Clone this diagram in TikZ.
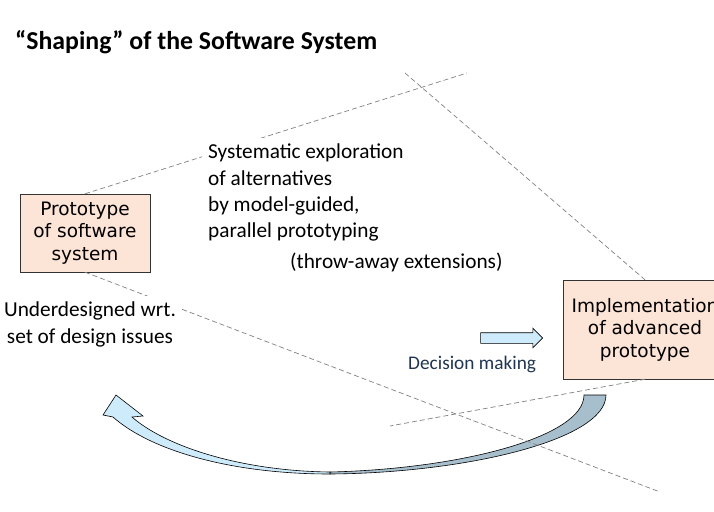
\documentclass[tikz,border=0pt]{standalone}
\usepackage{fontspec}
\setmainfont{Carlito}
\newfontfamily\boxfont{DejaVu Sans}
\usetikzlibrary{
    positioning,
    shapes.arrows
}
\definecolor{boxpeach}{HTML}{FCE4D6}
\definecolor{frontblue}{HTML}{A7BECC}
\definecolor{backblue}{HTML}{CDEBFA}
\definecolor{decisionnavy}{HTML}{1F3552}
\tikzset{
  protobox/.style={draw=black!80, fill=boxpeach, align=center, inner sep=0pt,
    font=\boxfont\fontsize{18.5}{22.5}\selectfont},
  guide/.style={draw=gray, line width=0.7pt, dash pattern=on 5pt off 3pt},
  plaintext/.style={fill=white, inner sep=6pt, font=\fontsize{21.3}{26.3}\selectfont},
  ribbon/.style={draw=black, line width=0.6pt}
}

\begin{document}
\begin{tikzpicture}[x=1pt,y=-1pt]
\useasboundingbox (0,0) rectangle (714,511);
\clip (0,0) rectangle (714,511);
\node[anchor=base west, inner sep=0pt, font=\bfseries\fontsize{25.8}{30}\selectfont] (title) at (15,49) {“Shaping” of the Software System};
\node[protobox, minimum width=130pt, minimum height=78pt] (proto) at (85,233) {Prototype\\of software\\system};
\node[protobox, minimum width=164pt, minimum height=99pt] (impl) at (645,329.5) {Implementation\\of advanced\\prototype};
% curved return arrow
\filldraw[ribbon, fill=frontblue] (330,474) .. controls (465,473) and (606,440) .. (606,395)
  -- (584,395) .. controls (584,437) and (460,469) .. (330,472) -- cycle;
\filldraw[ribbon, fill=backblue] (330,474) .. controls (230,474) and (150,450) .. (113,417)
  -- (103,415) -- (116,395) -- (143,416) -- (132,417)
  .. controls (165,446) and (240,471) .. (330,472) -- cycle;
% guide lines
\coordinate (g1) at (467,73);
\coordinate (g2) at (405,73);
\coordinate (g3) at (660,492);
\coordinate (g4) at (390,426);
\draw[guide] (proto.north) -- (g1);
\draw[guide] (g2) -- (impl.north);
\draw[guide] (proto.south) -- (g3);
\draw[guide] (impl.south) -- (g4);
% texts
\node[plaintext, align=left, anchor=north west] (explore) at (202,138) {Systematic exploration\\of alternatives\\by model-guided,\\parallel prototyping};
\node[plaintext, anchor=base west] (throw) at (284,268) {(throw-away extensions)};
\node[plaintext, align=center, anchor=north] (under) at (90,296) {Underdesigned wrt.\\set of design issues};
\node[single arrow, draw=black, fill=backblue, line width=0.6pt, inner xsep=0pt, inner ysep=5pt,
  minimum height=62pt, minimum width=19pt, single arrow head extend=4.5pt] (decide) at (509,338) {};
\node[anchor=base west, inner sep=0pt, text=decisionnavy, font=\fontsize{19.3}{23}\selectfont] (decidetext) at (408,369) {Decision making};
\end{tikzpicture}
\end{document}
